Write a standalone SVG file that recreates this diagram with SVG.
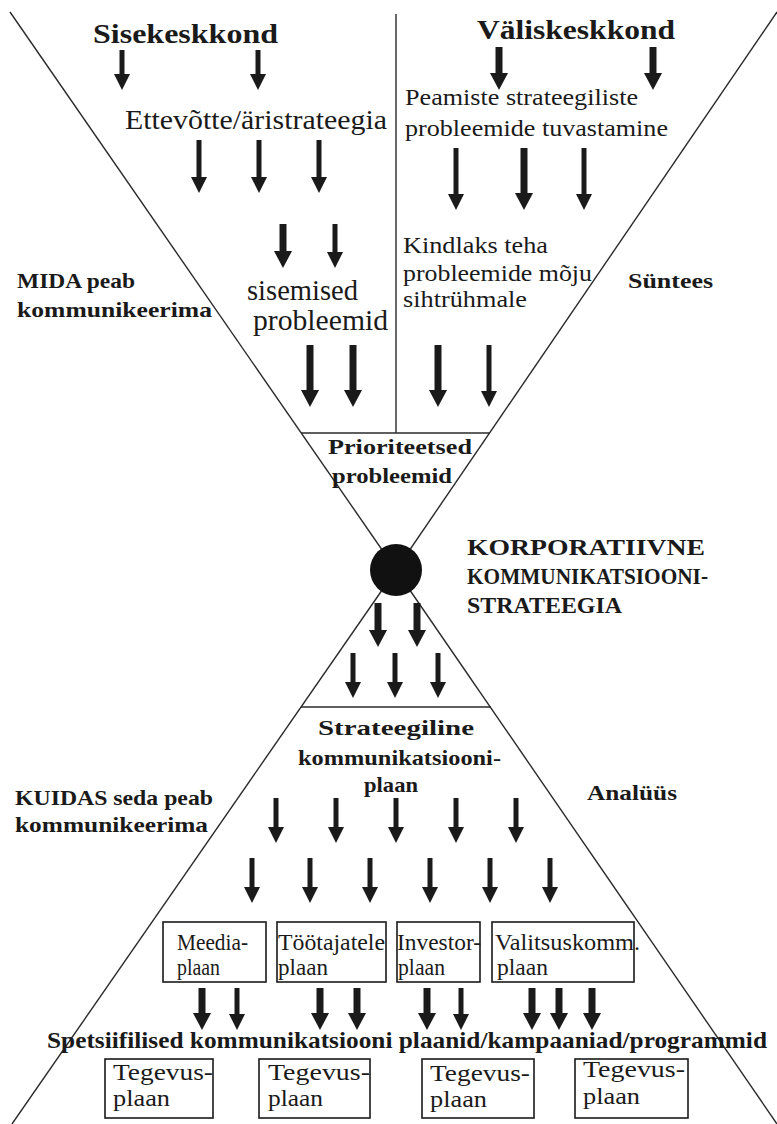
<svg xmlns="http://www.w3.org/2000/svg" width="777" height="1124" viewBox="0 0 777 1124">
<style>
.t{font-family:"Liberation Serif","Times New Roman",serif;fill:#1a1a1a}
.b{font-weight:bold}
.ln{stroke:#2a2a2a;stroke-width:1.4;fill:none}
.box{stroke:#1a1a1a;stroke-width:1.6;fill:none}
.a5{stroke:#1a1a1a;stroke-width:5;marker-end:url(#ah)}
.a7{stroke:#1a1a1a;stroke-width:7;marker-end:url(#ahb)}
</style>
<defs>
<marker id="ah" markerUnits="userSpaceOnUse" viewBox="0 -8 16 16" markerWidth="16" markerHeight="16" refX="1" refY="0" orient="auto"><path d="M0,-8 L16,0 L0,8 z" fill="#1a1a1a"/></marker>
<marker id="ahb" markerUnits="userSpaceOnUse" viewBox="0 -9 17 18" markerWidth="17" markerHeight="18" refX="1" refY="0" orient="auto"><path d="M0,-9 L17,0 L0,9 z" fill="#1a1a1a"/></marker>
</defs>
<rect width="777" height="1124" fill="#ffffff"/>
<g id="frame">
<line class="ln" x1="10" y1="12" x2="396" y2="570"/>
<line class="ln" x1="777" y1="12" x2="396" y2="570"/>
<line class="ln" x1="396" y1="570" x2="12" y2="1124"/>
<line class="ln" x1="396" y1="570" x2="777" y2="1124"/>
<line class="ln" x1="396" y1="14" x2="396" y2="433"/>
<line class="ln" x1="301" y1="433" x2="490" y2="433"/>
<line class="ln" x1="301" y1="707" x2="491" y2="707"/>
<circle id="center-dot" cx="396" cy="570" r="26" fill="#111"/>
</g>
<g id="connectors">
<line class="a5" x1="122" y1="50" x2="122" y2="75"/>
<line class="a5" x1="258" y1="50" x2="258" y2="75"/>
<line class="a7" x1="499" y1="47" x2="499" y2="74"/>
<line class="a7" x1="653" y1="47" x2="653" y2="74"/>
<line class="a5" x1="199" y1="140" x2="199" y2="178"/>
<line class="a5" x1="259" y1="140" x2="259" y2="178"/>
<line class="a5" x1="319" y1="140" x2="319" y2="178"/>
<line class="a5" x1="456" y1="148" x2="456" y2="195"/>
<line class="a7" x1="524" y1="148" x2="524" y2="194"/>
<line class="a5" x1="584" y1="148" x2="584" y2="195"/>
<line class="a7" x1="283" y1="224" x2="283" y2="252"/>
<line class="a5" x1="335" y1="224" x2="335" y2="253"/>
<line class="a7" x1="310" y1="345" x2="310" y2="391"/>
<line class="a7" x1="353" y1="345" x2="353" y2="391"/>
<line class="a7" x1="438" y1="345" x2="438" y2="391"/>
<line class="a5" x1="489" y1="345" x2="489" y2="392"/>
<line class="a7" x1="378" y1="603" x2="378" y2="631"/>
<line class="a7" x1="417" y1="603" x2="417" y2="631"/>
<line class="a5" x1="353" y1="653" x2="353" y2="683"/>
<line class="a5" x1="395" y1="653" x2="395" y2="683"/>
<line class="a5" x1="438" y1="653" x2="438" y2="683"/>
<line class="a5" x1="276" y1="798" x2="276" y2="828"/>
<line class="a5" x1="336" y1="798" x2="336" y2="828"/>
<line class="a5" x1="396" y1="798" x2="396" y2="828"/>
<line class="a5" x1="456" y1="798" x2="456" y2="828"/>
<line class="a5" x1="516" y1="798" x2="516" y2="828"/>
<line class="a5" x1="252" y1="858" x2="252" y2="888"/>
<line class="a5" x1="310" y1="858" x2="310" y2="888"/>
<line class="a5" x1="370" y1="858" x2="370" y2="888"/>
<line class="a5" x1="430" y1="858" x2="430" y2="888"/>
<line class="a5" x1="490" y1="858" x2="490" y2="888"/>
<line class="a5" x1="550" y1="858" x2="550" y2="888"/>
<line class="a7" x1="202" y1="988" x2="202" y2="1014"/>
<line class="a5" x1="237" y1="988" x2="237" y2="1015"/>
<line class="a7" x1="320" y1="988" x2="320" y2="1014"/>
<line class="a7" x1="357" y1="988" x2="357" y2="1014"/>
<line class="a7" x1="427" y1="988" x2="427" y2="1014"/>
<line class="a5" x1="461" y1="988" x2="461" y2="1015"/>
<line class="a7" x1="532" y1="988" x2="532" y2="1014"/>
<line class="a7" x1="559" y1="988" x2="559" y2="1014"/>
<line class="a7" x1="592" y1="988" x2="592" y2="1014"/>
</g>
<g id="sisekeskkond"><text class="t b" x="93" y="43" font-size="28" textLength="185" lengthAdjust="spacingAndGlyphs">Sisekeskkond</text></g>
<g id="valiskeskkond"><text class="t b" x="477" y="39" font-size="28" textLength="198" lengthAdjust="spacingAndGlyphs">Väliskeskkond</text></g>
<g id="ettevotte"><text class="t" x="125" y="129" font-size="28" textLength="262" lengthAdjust="spacingAndGlyphs">Ettevõtte/äristrateegia</text></g>
<g id="peamiste">
<text class="t" x="405" y="105" font-size="23" textLength="233" lengthAdjust="spacingAndGlyphs">Peamiste strateegiliste</text>
<text class="t" x="405" y="136" font-size="23" textLength="263" lengthAdjust="spacingAndGlyphs">probleemide tuvastamine</text>
</g>
<g id="kindlaks">
<text class="t" x="403" y="253" font-size="23" textLength="145" lengthAdjust="spacingAndGlyphs">Kindlaks teha</text>
<text class="t" x="403" y="281" font-size="23" textLength="189" lengthAdjust="spacingAndGlyphs">probleemide mõju</text>
<text class="t" x="403" y="307" font-size="23" textLength="124" lengthAdjust="spacingAndGlyphs">sihtrühmale</text>
</g>
<g id="sisemised">
<text class="t" x="247" y="300" font-size="29" textLength="111" lengthAdjust="spacingAndGlyphs">sisemised</text>
<text class="t" x="253" y="330" font-size="29" textLength="135" lengthAdjust="spacingAndGlyphs">probleemid</text>
</g>
<g id="mida">
<text class="t b" x="17" y="288" font-size="22" textLength="118" lengthAdjust="spacingAndGlyphs">MIDA peab</text>
<text class="t b" x="17" y="317" font-size="22" textLength="195" lengthAdjust="spacingAndGlyphs">kommunikeerima</text>
</g>
<g id="syntees"><text class="t b" x="628" y="288" font-size="22" textLength="85" lengthAdjust="spacingAndGlyphs">Süntees</text></g>
<g id="prioriteetsed">
<text class="t b" x="328" y="454" font-size="21" textLength="144" lengthAdjust="spacingAndGlyphs">Prioriteetsed</text>
<text class="t b" x="332" y="483" font-size="21" textLength="120" lengthAdjust="spacingAndGlyphs">probleemid</text>
</g>
<g id="korporatiivne">
<text class="t b" x="467" y="555" font-size="24" textLength="238" lengthAdjust="spacingAndGlyphs">KORPORATIIVNE</text>
<text class="t b" x="467" y="584" font-size="24" textLength="241" lengthAdjust="spacingAndGlyphs">KOMMUNIKATSIOONI-</text>
<text class="t b" x="467" y="613" font-size="24" textLength="155" lengthAdjust="spacingAndGlyphs">STRATEEGIA</text>
</g>
<g id="strateegiline">
<text class="t b" x="318" y="735" font-size="22" textLength="156" lengthAdjust="spacingAndGlyphs">Strateegiline</text>
<text class="t b" x="298" y="765" font-size="22" textLength="203" lengthAdjust="spacingAndGlyphs">kommunikatsiooni-</text>
<text class="t b" x="364" y="792" font-size="22" textLength="54" lengthAdjust="spacingAndGlyphs">plaan</text>
</g>
<g id="kuidas">
<text class="t b" x="15" y="805" font-size="22" textLength="198" lengthAdjust="spacingAndGlyphs">KUIDAS seda peab</text>
<text class="t b" x="15" y="832" font-size="22" textLength="193" lengthAdjust="spacingAndGlyphs">kommunikeerima</text>
</g>
<g id="analyys"><text class="t b" x="587" y="800" font-size="22" textLength="90" lengthAdjust="spacingAndGlyphs">Analüüs</text></g>
<g id="meedia">
<rect class="box" x="163" y="922" width="103" height="60"/>
<text class="t" x="177" y="950" font-size="24" textLength="71" lengthAdjust="spacingAndGlyphs">Meedia-</text>
<text class="t" x="177" y="975" font-size="24" textLength="43" lengthAdjust="spacingAndGlyphs">plaan</text>
</g>
<g id="tootajatele">
<rect class="box" x="277" y="922" width="109" height="60"/>
<text class="t" x="278" y="950" font-size="24" textLength="107" lengthAdjust="spacingAndGlyphs">Töötajatele</text>
<text class="t" x="278" y="975" font-size="24" textLength="50" lengthAdjust="spacingAndGlyphs">plaan</text>
</g>
<g id="investor">
<rect class="box" x="397" y="922" width="83" height="60"/>
<text class="t" x="397" y="950" font-size="24" textLength="84" lengthAdjust="spacingAndGlyphs">Investor-</text>
<text class="t" x="398" y="975" font-size="24" textLength="47" lengthAdjust="spacingAndGlyphs">plaan</text>
</g>
<g id="valitsuskomm">
<rect class="box" x="492" y="922" width="142" height="60"/>
<text class="t" x="495" y="950" font-size="24" textLength="145" lengthAdjust="spacingAndGlyphs">Valitsuskomm.</text>
<text class="t" x="497" y="975" font-size="24" textLength="51" lengthAdjust="spacingAndGlyphs">plaan</text>
</g>
<g id="spetsiifilised"><text class="t b" x="47" y="1048" font-size="23" textLength="720" lengthAdjust="spacingAndGlyphs">Spetsiifilised kommunikatsiooni plaanid/kampaaniad/programmid</text></g>
<g id="tegevus1">
<rect class="box" x="105" y="1059" width="108" height="59"/>
<text class="t" x="113" y="1080" font-size="23" textLength="100" lengthAdjust="spacingAndGlyphs">Tegevus-</text>
<text class="t" x="113" y="1106" font-size="23" textLength="57" lengthAdjust="spacingAndGlyphs">plaan</text>
</g>
<g id="tegevus2">
<rect class="box" x="259" y="1059" width="111" height="59"/>
<text class="t" x="268" y="1080" font-size="23" textLength="102" lengthAdjust="spacingAndGlyphs">Tegevus-</text>
<text class="t" x="268" y="1106" font-size="23" textLength="55" lengthAdjust="spacingAndGlyphs">plaan</text>
</g>
<g id="tegevus3">
<rect class="box" x="422" y="1059" width="112" height="59"/>
<text class="t" x="430" y="1081" font-size="23" textLength="100" lengthAdjust="spacingAndGlyphs">Tegevus-</text>
<text class="t" x="430" y="1107" font-size="23" textLength="57" lengthAdjust="spacingAndGlyphs">plaan</text>
</g>
<g id="tegevus4">
<rect class="box" x="575" y="1059" width="113" height="59"/>
<text class="t" x="583" y="1077" font-size="23" textLength="102" lengthAdjust="spacingAndGlyphs">Tegevus-</text>
<text class="t" x="583" y="1104" font-size="23" textLength="57" lengthAdjust="spacingAndGlyphs">plaan</text>
</g>
</svg>
